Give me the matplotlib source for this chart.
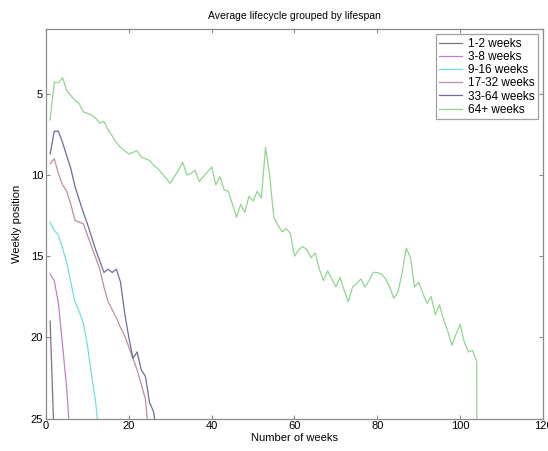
import matplotlib
matplotlib.use("Agg")
import matplotlib.pyplot as plt
import numpy as np

plt.rcParams['font.family'] = ['Liberation Sans', 'DejaVu Sans']

# average weekly position per week of life, one list per lifespan group
pos_1_2 = [19.0, 26.5]
pos_3_8 = [16.1, 16.5, 17.9, 20.5, 23.1, 27.0]
pos_9_16 = [12.9, 13.4, 13.7, 14.5, 15.4, 16.6, 17.8, 18.4, 19.1, 20.5,
            22.3, 24.0, 26.5]
pos_17_32 = [9.3, 9.0, 9.9, 10.6, 11.0, 11.8, 12.8, 12.9, 13.0, 13.7,
             14.4, 15.1, 15.8, 16.9, 17.8, 18.3, 18.8, 19.4, 19.9, 20.6,
             21.3, 22.0, 22.9, 23.8, 26.5]
pos_33_64 = [8.7, 7.3, 7.3, 8.0, 8.8, 9.6, 10.7, 11.5, 12.3, 13.0,
             13.8, 14.6, 15.3, 16.0, 15.8, 16.0, 15.8, 16.6, 18.5, 20.0,
             21.3, 20.9, 22.0, 22.4, 24.0, 24.6, 26.5]
pos_64plus = [6.6, 4.3, 4.3, 4.0, 4.8, 5.1, 5.4, 5.6, 6.1, 6.2,
              6.3, 6.5, 6.8, 6.7, 7.2, 7.6, 8.0, 8.3, 8.5, 8.7,
              8.6, 8.5, 8.9, 9.0, 9.1, 9.4, 9.6, 9.9, 10.2, 10.5,
              10.1, 9.7, 9.2, 10.0, 9.9, 9.7, 10.4, 10.1, 9.8, 9.5,
              10.6, 10.1, 10.9, 11.0, 11.8, 12.6, 11.8, 12.3, 11.3, 11.6,
              11.0, 11.4, 8.3, 10.0, 12.6, 13.1, 13.5, 13.3, 13.6, 15.0,
              14.6, 14.4, 14.6, 15.1, 14.8, 15.8, 16.5, 15.9, 16.4, 16.9,
              16.3, 17.1, 17.8, 16.9, 16.7, 16.4, 16.9, 16.5, 16.0, 16.0,
              16.1, 16.4, 16.9, 17.6, 17.2, 16.0, 14.5, 15.1, 16.9, 16.6,
              17.3, 17.9, 17.5, 18.6, 18.0, 18.9, 19.6, 20.5, 19.8, 19.2,
              20.3, 20.9, 20.8, 21.5, 200.0]

labels = ['1-2 weeks', '3-8 weeks', '9-16 weeks', '17-32 weeks',
          '33-64 weeks', '64+ weeks']
series = [pos_1_2, pos_3_8, pos_9_16, pos_17_32, pos_33_64, pos_64plus]
colors = ['#7b7282', '#c77dc9', '#6ee0e2', '#c38c98', '#6c6c9e', '#8fd68f']

fig = plt.figure(figsize=(5.48, 4.51), dpi=100)
ax = fig.add_axes([0.0839, 0.072, 0.9070, 0.8637])

for vals, lab, col in zip(series, labels, colors):
    weeks = np.arange(1, len(vals) + 1)
    ax.plot(weeks, vals, color=col, lw=0.9, label=lab)

ax.set_xlim(0, 120)
ax.set_ylim(25, 1)
ax.set_xticks(range(0, 121, 20))
ax.set_yticks([5, 10, 15, 20, 25])

for s in ax.spines.values():
    s.set_color('#8a8a8a')
    s.set_linewidth(0.9)
ax.tick_params(direction='in', length=3, width=0.8, color='#8a8a8a',
               top=True, right=True, labelsize=8, pad=2)

ax.set_title('Average lifecycle grouped by lifespan', fontsize=7.5, pad=7)
ax.set_xlabel('Number of weeks', fontsize=8, labelpad=1)
ax.set_ylabel('Weekly position', fontsize=8, labelpad=6)

leg = ax.legend(loc='upper right', fontsize=8.5, frameon=True, fancybox=False,
                handlelength=1.9, handletextpad=0.5, labelspacing=0.1,
                borderaxespad=0.45, borderpad=0.3)
leg.get_frame().set_edgecolor('#8a8a8a')
leg.get_frame().set_linewidth(0.9)

fig.savefig('out.png', dpi=100)
